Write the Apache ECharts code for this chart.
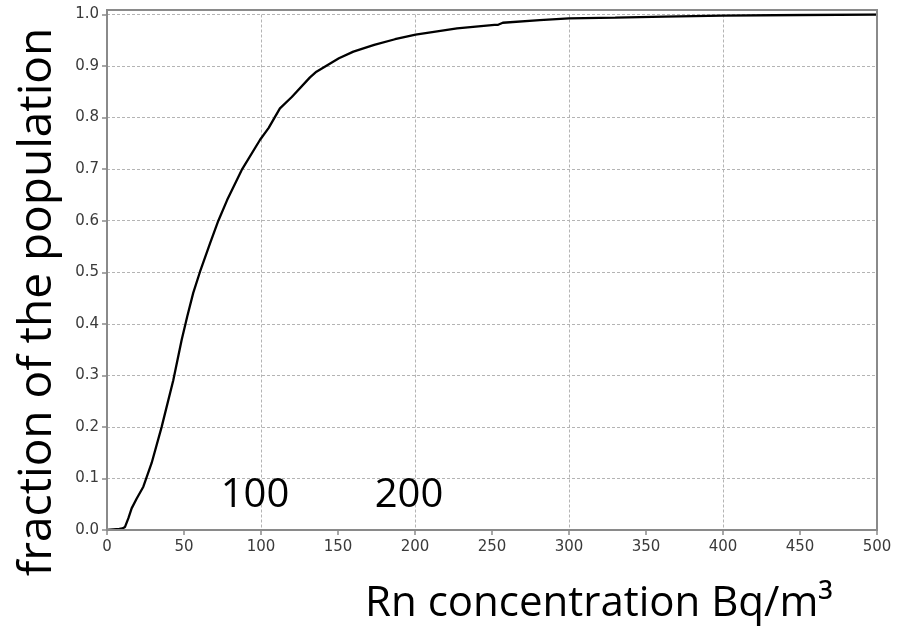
<!DOCTYPE html>
<html>
<head>
<meta charset="utf-8">
<style>
  html, body { margin: 0; padding: 0; background: #fff; }
  #chart { width: 903px; height: 626px; }
</style>
<script src="https://cdn.jsdelivr.net/npm/echarts@6/dist/echarts.min.js"></script>
</head>
<body>
<div id="chart"></div>
<script>
// Cumulative distribution of indoor radon concentration
const concentration = [0, 8, 10, 11.7, 13.9, 16, 19.3, 23.6, 29, 35.5, 43, 48.5, 52.1, 56, 60.4, 66.9, 72.3, 78,
  87.4, 99.4, 105, 109, 112.3, 120, 131.8, 136, 150.6, 160, 173.5, 187, 200.4, 227.3, 251.6, 254, 257, 281,
  300, 330, 362, 400, 450, 500];
const fraction = [0, 0.002, 0.003, 0.006, 0.023, 0.042, 0.061, 0.084, 0.13, 0.2, 0.29, 0.369, 0.414, 0.46, 0.501,
  0.556, 0.6, 0.64, 0.698, 0.757, 0.78, 0.801, 0.818, 0.84, 0.878, 0.889, 0.915, 0.928, 0.941, 0.952, 0.961,
  0.973, 0.98, 0.98, 0.984, 0.989, 0.9925, 0.994, 0.996, 0.998, 0.999, 1.0];
const xTicks = { min: 0, max: 500, step: 50, gridStep: 100 };
const yTicks = { min: 0, max: 1, step: 0.1 };
const markers = [100, 200];
const xTitle = 'Rn concentration Bq/m³';
const yTitle = 'fraction of the population';

const chart = echarts.init(document.getElementById('chart'), null, { renderer: 'canvas' });

const tickFont = { fontFamily: 'DejaVu Sans', fontSize: 15, color: '#3a3a3a' };
const gridLine = { show: true, lineStyle: { color: '#b4b4b4', width: 1, type: [3, 2] } };
const G = { left: 107, right: 26, top: 14.5, bottom: 96 };

chart.setOption({
  animation: false,
  grid: { left: G.left, right: G.right, top: G.top, bottom: G.bottom },
  xAxis: [
    {
      type: 'value', min: xTicks.min, max: xTicks.max, interval: xTicks.step,
      axisLine: { show: true, lineStyle: { color: '#8a8a8a', width: 2 } },
      axisTick: { show: true, inside: false, length: 5, lineStyle: { color: '#8a8a8a', width: 1.5 } },
      axisLabel: Object.assign({ margin: 10 }, tickFont),
      splitLine: { show: false }
    },
    {
      type: 'value', min: xTicks.min, max: xTicks.max, interval: xTicks.gridStep,
      position: 'bottom',
      axisLine: { show: false }, axisTick: { show: false }, axisLabel: { show: false },
      splitLine: gridLine
    }
  ],
  yAxis: {
    type: 'value', min: yTicks.min, max: yTicks.max, interval: yTicks.step,
    axisLine: { show: true, lineStyle: { color: '#8a8a8a', width: 2 } },
    axisTick: { show: true, inside: false, length: 5, lineStyle: { color: '#8a8a8a', width: 1.5 } },
    axisLabel: Object.assign({ margin: 8, formatter: v => v.toFixed(1) }, tickFont),
    splitLine: gridLine
  },
  series: [
    {
      type: 'line',
      xAxisIndex: 0,
      data: concentration.map((c, i) => [c, fraction[i]]),
      showSymbol: false,
      lineStyle: { color: '#000', width: 2.3 },
      z: 5
    },
    {
      // big value captions sitting just above the x axis
      type: 'scatter',
      xAxisIndex: 0,
      data: markers.map(m => [m, 0.066]),
      symbolSize: 0,
      itemStyle: { opacity: 1 },
      label: {
        show: true, position: 'inside', offset: [-6, 0],
        formatter: p => String(p.value[0]),
        fontFamily: 'Open Sans', fontSize: 40, color: '#000', opacity: 1
      },
      emphasis: { disabled: true },
      z: 6
    }
  ],
  graphic: [
    {
      type: 'rect',
      shape: { x: 107, y: 10, width: 770, height: 520 },
      style: { fill: null, stroke: '#8a8a8a', lineWidth: 2 },
      silent: true, z: 10
    },
    {
      type: 'text',
      x: 599, y: 604,
      style: {
        text: xTitle, fontFamily: 'Open Sans', fontSize: 42, fill: '#000',
        textAlign: 'center', textVerticalAlign: 'middle'
      }
    },
    {
      type: 'text',
      x: 38, y: 302, rotation: Math.PI / 2,
      style: {
        text: yTitle, fontFamily: 'Open Sans', fontSize: 46, fill: '#000',
        textAlign: 'center', textVerticalAlign: 'middle'
      }
    }
  ]
});
</script>
</body>
</html>
